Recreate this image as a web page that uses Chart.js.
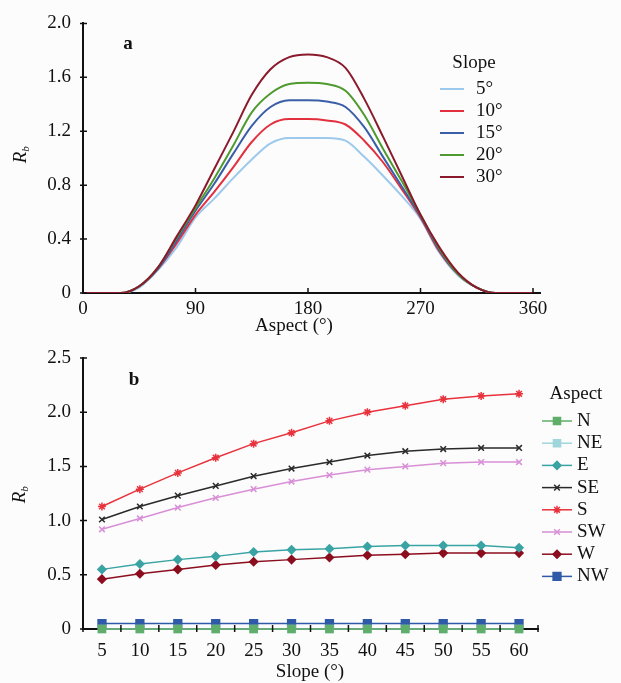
<!DOCTYPE html>
<html>
<head>
<meta charset="utf-8">
<script src="https://cdn.jsdelivr.net/npm/chart.js@4.4.1/dist/chart.umd.min.js"></script>
<style>
  html, body { margin: 0; padding: 0; background: #fcfcfc; }
  #wrap { position: relative; width: 621px; height: 683px; overflow: hidden; }
  .box { position: absolute; left: 0; width: 621px; }
  #boxA { top: 0; height: 340px; }
  #boxB { top: 330px; height: 353px; }
</style>
</head>
<body>
<div id="wrap">
  <div class="box" id="boxA"><canvas id="chartA" width="621" height="340"></canvas></div>
  <div class="box" id="boxB"><canvas id="chartB" width="621" height="353"></canvas></div>
</div>
<script>
const FONT = '"Liberation Serif", "Times New Roman", serif';
const FS = 19;

// (a) Rb against aspect, one curve per slope
const aspectDeg = [0, 15, 30, 45, 60, 75, 90, 105, 120, 135, 150, 165, 180,
                   195, 210, 225, 240, 255, 270, 285, 300, 315, 330, 345, 360];
const slopeLabels = ['5°', '10°', '15°', '20°', '30°'];
const slopeColors = ['#9cc9ec', '#e2303f', '#3b5ea8', '#4f9a2e', '#8a1a2c'];
const rbSlope5  = [0, 0, 0, 0.04, 0.17, 0.34, 0.56, 0.70, 0.85, 0.99, 1.11, 1.15, 1.15,
                   1.15, 1.13, 1.01, 0.87, 0.72, 0.55, 0.30, 0.13, 0.04, 0, 0, 0];
const rbSlope10 = [0, 0, 0, 0.05, 0.18, 0.37, 0.58, 0.75, 0.93, 1.12, 1.25, 1.29, 1.29,
                   1.28, 1.25, 1.13, 0.97, 0.77, 0.56, 0.31, 0.14, 0.04, 0, 0, 0];
const rbSlope15 = [0, 0, 0, 0.05, 0.18, 0.39, 0.61, 0.81, 1.03, 1.24, 1.38, 1.43, 1.43,
                   1.42, 1.38, 1.23, 1.01, 0.79, 0.57, 0.32, 0.14, 0.04, 0, 0, 0];
const rbSlope20 = [0, 0, 0, 0.05, 0.19, 0.41, 0.63, 0.85, 1.09, 1.34, 1.48, 1.55, 1.56,
                   1.55, 1.50, 1.32, 1.07, 0.83, 0.58, 0.33, 0.14, 0.04, 0, 0, 0];
const rbSlope30 = [0, 0, 0, 0.05, 0.19, 0.42, 0.65, 0.92, 1.19, 1.47, 1.66, 1.75, 1.77,
                   1.75, 1.67, 1.44, 1.16, 0.87, 0.58, 0.34, 0.15, 0.04, 0, 0, 0];
const aspectTicks = [0, 90, 180, 270, 360];

// (b) Rb against slope, one line per aspect
const slopeDeg = ['5', '10', '15', '20', '25', '30', '35', '40', '45', '50', '55', '60'];
const aspectLabels = ['N', 'NE', 'E', 'SE', 'S', 'SW', 'W', 'NW'];
const aspectColors = ['#5fae6a', '#9fd6dc', '#3aa3a3', '#2a2a2a', '#e8323c', '#d88fd6', '#8c0e1e', '#2f5aa8'];
const aspectMarkers = ['rect', 'rect', 'rectRot', 'crossRot', 'star', 'crossRot', 'rectRot', 'rect'];
const rbN  = [0, 0, 0, 0, 0, 0, 0, 0, 0, 0, 0, 0];
const rbNE = [0, 0, 0, 0, 0, 0, 0, 0, 0, 0, 0, 0];
const rbE  = [0.55, 0.60, 0.64, 0.67, 0.71, 0.73, 0.74, 0.76, 0.77, 0.77, 0.77, 0.75];
const rbSE = [1.01, 1.13, 1.23, 1.32, 1.41, 1.48, 1.54, 1.60, 1.64, 1.66, 1.67, 1.67];
const rbS  = [1.13, 1.29, 1.44, 1.58, 1.71, 1.81, 1.92, 2.00, 2.06, 2.12, 2.15, 2.17];
const rbSW = [0.92, 1.02, 1.12, 1.21, 1.29, 1.36, 1.42, 1.47, 1.50, 1.53, 1.54, 1.54];
const rbW  = [0.46, 0.51, 0.55, 0.59, 0.62, 0.64, 0.66, 0.68, 0.69, 0.70, 0.70, 0.70];
const rbNW = [0.05, 0.05, 0.05, 0.05, 0.05, 0.05, 0.05, 0.05, 0.05, 0.05, 0.05, 0.05];

// small tick marks crossing the axes, like the original figure
const axisTicks = {
  id: 'axisTicks',
  afterDraw(chart, args, o) {
    const { ctx, chartArea: a, scales: { x, y } } = chart;
    ctx.save();
    ctx.strokeStyle = '#111';
    ctx.lineWidth = 1.5;
    ctx.beginPath();
    y.ticks.forEach(t => {
      const py = y.getPixelForValue(t.value);
      ctx.moveTo(a.left - 3, py);
      ctx.lineTo(a.left + 4, py);
    });
    if (o.between) {
      for (let i = 0; i <= x.ticks.length; i++) {
        const px = x.getPixelForValue(i - 0.5);
        ctx.moveTo(px, a.bottom + 3);
        ctx.lineTo(px, a.bottom - 4);
      }
    } else {
      x.ticks.forEach(t => {
        const px = x.getPixelForValue(t.value);
        ctx.moveTo(px, a.bottom);
        ctx.lineTo(px, a.bottom - 5);
      });
    }
    ctx.stroke();
    ctx.restore();
  }
};

// legend drawn in a fixed box, line sample + marker + label
const boxLegend = {
  id: 'boxLegend',
  afterDraw(chart, args, o) {
    const ctx = chart.ctx;
    ctx.save();
    ctx.font = `${FS}px ${FONT}`;
    ctx.fillStyle = '#111';
    ctx.textBaseline = 'middle';
    ctx.textAlign = 'center';
    ctx.fillText(o.title, o.titleX, o.titleY);
    ctx.textAlign = 'left';
    chart.data.datasets.forEach((ds, i) => {
      const yy = o.top + i * o.step;
      ctx.strokeStyle = ds.borderColor;
      ctx.lineWidth = ds.borderWidth;
      ctx.beginPath();
      ctx.moveTo(o.x0, yy);
      ctx.lineTo(o.x1, yy);
      ctx.stroke();
      if (ds.pointRadius > 0) {
        ctx.fillStyle = ds.pointBackgroundColor;
        ctx.strokeStyle = ds.pointBorderColor;
        ctx.lineWidth = ds.pointBorderWidth;
        Chart.helpers.drawPoint(ctx, {
          pointStyle: ds.pointStyle, radius: ds.pointRadius, rotation: 0,
          borderWidth: ds.pointBorderWidth
        }, (o.x0 + o.x1) / 2, yy);
      }
      ctx.fillStyle = '#111';
      ctx.fillText(ds.label, o.textX, yy);
    });
    ctx.restore();
  }
};

// panel letter, x-axis title and the italic R with subscript b
const panelText = {
  id: 'panelText',
  afterDraw(chart, args, o) {
    const ctx = chart.ctx;
    ctx.save();
    ctx.fillStyle = '#111';
    ctx.textAlign = 'center';
    ctx.textBaseline = 'middle';
    ctx.font = `${FS}px ${FONT}`;
    ctx.fillText(o.xTitle, o.xTitleX, o.xTitleY);
    ctx.font = `bold ${FS}px ${FONT}`;
    ctx.fillText(o.letter, o.letterX, o.letterY);
    ctx.translate(o.rbX, o.rbY);
    ctx.rotate(-Math.PI / 2);
    ctx.textAlign = 'left';
    ctx.textBaseline = 'alphabetic';
    ctx.font = `italic ${FS}px ${FONT}`;
    const w = ctx.measureText('R').width;
    ctx.fillText('R', -(w + 5) / 2, 6);
    ctx.font = `italic ${Math.round(FS * 0.6)}px ${FONT}`;
    ctx.fillText('b', -(w + 5) / 2 + w, 9);
    ctx.restore();
  }
};

const tickFont = { family: FONT, size: FS };

const seriesA = [rbSlope5, rbSlope10, rbSlope15, rbSlope20, rbSlope30];
new Chart(document.getElementById('chartA'), {
  type: 'line',
  data: {
    datasets: seriesA.map((vals, i) => ({
      label: slopeLabels[i],
      data: aspectDeg.map((a, k) => ({ x: a, y: vals[k] })),
      borderColor: slopeColors[i],
      borderWidth: 2,
      pointRadius: 0,
      cubicInterpolationMode: 'monotone',
      order: seriesA.length - i
    }))
  },
  options: {
    responsive: false,
    animation: false,
    layout: { padding: { top: 19, right: 81, left: 0, bottom: 0 } },
    plugins: {
      legend: { display: false },
      tooltip: { enabled: false },
      boxLegend: { title: 'Slope', titleX: 474, titleY: 63, top: 89, step: 22,
                   x0: 440, x1: 464, textX: 476 },
      panelText: { letter: 'a', letterX: 128, letterY: 44, rbX: 20, rbY: 155,
                   xTitle: 'Aspect (°)', xTitleX: 294, xTitleY: 326 }
    },
    scales: {
      x: {
        type: 'linear', min: 0, max: 365.6,
        afterBuildTicks: s => { s.ticks = aspectTicks.map(v => ({ value: v })); },
        afterFit: s => { s.height = 47; },
        grid: { display: false, drawTicks: false },
        border: { color: '#111', width: 2 },
        ticks: { font: tickFont, color: '#111', padding: 5, maxRotation: 0 }
      },
      y: {
        min: 0, max: 2,
        afterFit: s => { s.width = 83; },
        grid: { display: false, drawTicks: false },
        border: { color: '#111', width: 2 },
        ticks: { stepSize: 0.4, font: tickFont, color: '#111', padding: 12,
                 callback: v => v === 0 ? '0' : v.toFixed(1) }
      }
    }
  },
  plugins: [axisTicks, boxLegend, panelText]
});

const seriesB = [rbN, rbNE, rbE, rbSE, rbS, rbSW, rbW, rbNW];
new Chart(document.getElementById('chartB'), {
  type: 'line',
  data: {
    labels: slopeDeg,
    datasets: seriesB.map((vals, i) => ({
      label: aspectLabels[i],
      data: vals,
      borderColor: aspectColors[i],
      borderWidth: 1.5,
      pointStyle: aspectMarkers[i],
      pointRadius: aspectMarkers[i] === 'rect' ? (i === 7 ? 5.5 : 5) : 4,
      pointBackgroundColor: aspectColors[i],
      pointBorderColor: aspectColors[i],
      pointBorderWidth: 1.5,
      tension: 0,
      clip: false
    }))
  },
  options: {
    responsive: false,
    animation: false,
    layout: { padding: { top: 28, right: 83, left: 0, bottom: 0 } },
    plugins: {
      legend: { display: false },
      tooltip: { enabled: false },
      boxLegend: { title: 'Aspect', titleX: 576, titleY: 64, top: 91, step: 22.2,
                   x0: 542, x1: 572, textX: 577 },
      panelText: { letter: 'b', letterX: 134, letterY: 50, rbX: 19, rbY: 165,
                   xTitle: 'Slope (°)', xTitleX: 310, xTitleY: 342 },
      axisTicks: { between: true }
    },
    scales: {
      x: {
        offset: true,
        afterFit: s => { s.height = 54; },
        grid: { display: false, drawTicks: false },
        border: { color: '#111', width: 2 },
        ticks: { font: tickFont, color: '#111', padding: 11, maxRotation: 0 }
      },
      y: {
        min: 0, max: 2.5,
        afterFit: s => { s.width = 83; },
        grid: { display: false, drawTicks: false },
        border: { color: '#111', width: 2 },
        ticks: { stepSize: 0.5, font: tickFont, color: '#111', padding: 12,
                 callback: v => v === 0 ? '0' : v.toFixed(1) }
      }
    }
  },
  plugins: [axisTicks, boxLegend, panelText]
});
</script>
</body>
</html>
